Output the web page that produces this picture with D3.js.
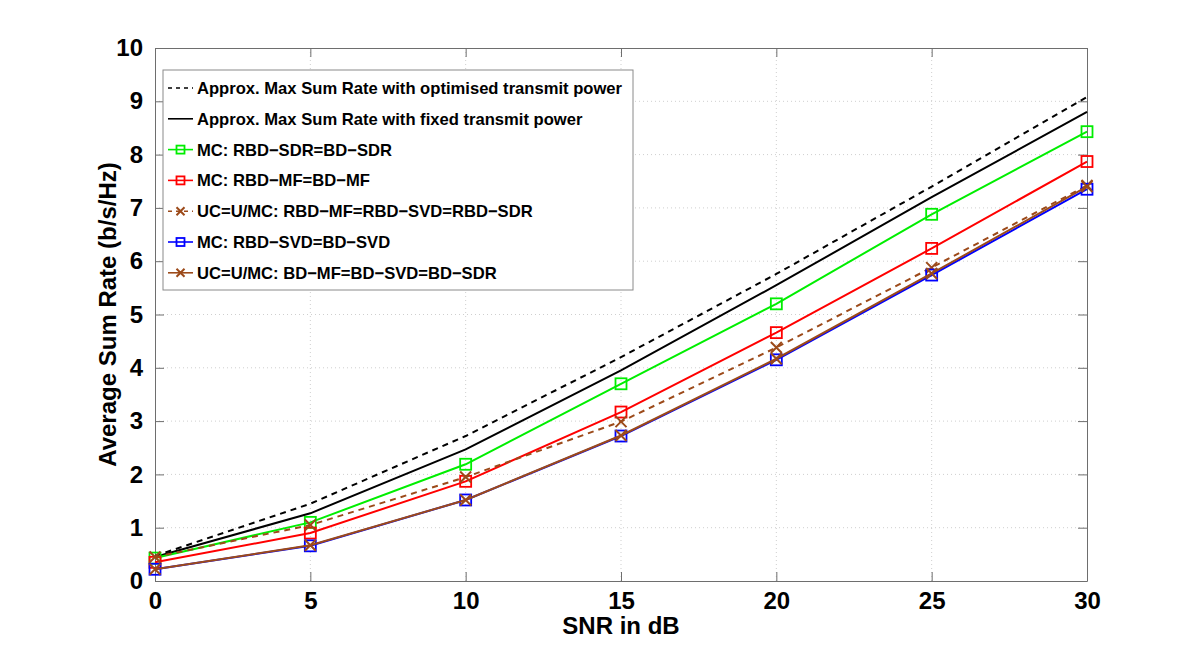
<!DOCTYPE html>
<html>
<head>
<meta charset="utf-8">
<script src="https://cdn.jsdelivr.net/npm/d3@7"></script>
<style>
    body { margin: 0; background: #fff; }
    svg { font-family: "Liberation Sans", Arial, sans-serif; font-weight: bold; }
    .grid line { stroke: #cfcfcf; stroke-dasharray: 1,3; }
    .axis path, .axis line { stroke: #6e6e6e; }
</style>
</head>
<body>
<svg id="chart"></svg>
<script>
// SNR values (dB)
const snr = [0, 5, 10, 15, 20, 25, 30];

// average sum rate for each curve (b/s/Hz)
const maxOptPower   = [0.47, 1.45, 2.72, 4.20, 5.76, 7.40, 9.08];
const maxFixedPower = [0.45, 1.27, 2.47, 3.95, 5.55, 7.20, 8.80];
const mcSdr         = [0.43, 1.10, 2.19, 3.70, 5.20, 6.88, 8.43];
const mcMf          = [0.35, 0.90, 1.87, 3.17, 4.66, 6.24, 7.87];
const ucRbd         = [0.45, 1.05, 1.95, 2.99, 4.38, 5.88, 7.42];
const mcSvd         = [0.22, 0.66, 1.52, 2.72, 4.15, 5.74, 7.35];
const ucBd          = [0.22, 0.67, 1.52, 2.73, 4.17, 5.77, 7.40];

const xTicks = [0, 5, 10, 15, 20, 25, 30];
const yTicks = [0, 1, 2, 3, 4, 5, 6, 7, 8, 9, 10];

const series = [
    { name: 'Approx. Max Sum Rate with optimised transmit power', values: maxOptPower, color: '#000000', dash: '6,5', marker: null },
    { name: 'Approx. Max Sum Rate with fixed transmit power', values: maxFixedPower, color: '#000000', dash: null, marker: null },
    { name: 'MC: RBD\u2212SDR=BD\u2212SDR', values: mcSdr, color: '#00ee00', dash: null, marker: 'square' },
    { name: 'MC: RBD\u2212MF=BD\u2212MF', values: mcMf, color: '#ff0000', dash: null, marker: 'square' },
    { name: 'UC=U/MC: RBD\u2212MF=RBD\u2212SVD=RBD\u2212SDR', values: ucRbd, color: '#9c4a1a', dash: '6,5', marker: 'x' },
    { name: 'MC: RBD\u2212SVD=BD\u2212SVD', values: mcSvd, color: '#0000ff', dash: null, marker: 'square' },
    { name: 'UC=U/MC: BD\u2212MF=BD\u2212SVD=BD\u2212SDR', values: ucBd, color: '#9c4a1a', dash: null, marker: 'x' }
];

const config = {
    width: 1200,
    height: 654,
    margin: { top: 48, right: 113, bottom: 73, left: 155 }
};

const svg = d3.select('#chart')
    .attr('width', config.width)
    .attr('height', config.height);

const innerW = config.width - config.margin.left - config.margin.right;
const innerH = config.height - config.margin.top - config.margin.bottom;

const xScale = d3.scaleLinear().domain([0, 30]).range([0, innerW]);
const yScale = d3.scaleLinear().domain([0, 10]).range([innerH, 0]);

const chart = svg.append('g')
    .attr('transform', `translate(${config.margin.left},${config.margin.top})`);

// grid
chart.append('g')
    .attr('class', 'grid')
    .selectAll('line.gx')
    .data(xTicks.slice(1, -1))
    .join('line')
    .attr('x1', d => xScale(d)).attr('x2', d => xScale(d))
    .attr('y1', 0).attr('y2', innerH);

chart.select('.grid')
    .selectAll('line.gy')
    .data(yTicks.slice(1, -1))
    .join('line')
    .attr('class', 'gy')
    .attr('x1', 0).attr('x2', innerW)
    .attr('y1', d => yScale(d)).attr('y2', d => yScale(d));

// axes, ticks point inward like matlab
const tickLen = 9;
const xAxis = d3.axisBottom(xScale).tickValues(xTicks).tickSize(-tickLen).tickPadding(14).tickSizeOuter(0);
const yAxis = d3.axisLeft(yScale).tickValues(yTicks).tickSize(-tickLen).tickPadding(12).tickSizeOuter(0);

const xAxisG = chart.append('g')
    .attr('class', 'axis x-axis')
    .attr('transform', `translate(0,${innerH})`)
    .call(xAxis);

const yAxisG = chart.append('g')
    .attr('class', 'axis y-axis')
    .call(yAxis);

chart.append('g')
    .attr('class', 'axis')
    .call(d3.axisTop(xScale).tickValues(xTicks).tickSize(-tickLen).tickFormat('').tickSizeOuter(0));

chart.append('g')
    .attr('class', 'axis')
    .attr('transform', `translate(${innerW},0)`)
    .call(d3.axisRight(yScale).tickValues(yTicks).tickSize(-tickLen).tickFormat('').tickSizeOuter(0));

chart.selectAll('.axis text')
    .style('font-size', '24px')
    .style('font-weight', 'bold')
    .style('font-family', '"Liberation Sans", Arial, sans-serif')
    .attr('fill', '#000');

chart.selectAll('.x-axis .tick text').attr('dy', '0.6em');

// lines
const line = d3.line()
    .x((d, i) => xScale(snr[i]))
    .y(d => yScale(d));

const drawMarker = (g, type, color, size) => {
    if (type === 'square') {
        g.append('rect')
            .attr('x', -size / 2).attr('y', -size / 2)
            .attr('width', size).attr('height', size)
            .attr('fill', 'none')
            .attr('stroke', color)
            .attr('stroke-width', 1.8);
    } else if (type === 'x') {
        const s = size / 2;
        g.append('path')
            .attr('d', `M${-s},${-s}L${s},${s}M${-s},${s}L${s},${-s}`)
            .attr('stroke', color)
            .attr('stroke-width', 2);
    }
};

series.forEach(s => {
    chart.append('path')
        .datum(s.values)
        .attr('d', line)
        .attr('fill', 'none')
        .attr('stroke', s.color)
        .attr('stroke-width', 2)
        .attr('stroke-dasharray', s.dash);

    if (s.marker) {
        s.values.forEach((v, i) => {
            const g = chart.append('g')
                .attr('transform', `translate(${xScale(snr[i])},${yScale(v)})`);
            drawMarker(g, s.marker, s.color, 11);
        });
    }
});

// axis labels
svg.append('text')
    .attr('x', config.margin.left + innerW / 2)
    .attr('y', 634)
    .attr('text-anchor', 'middle')
    .style('font-size', '24px')
    .text('SNR in dB');

svg.append('text')
    .attr('transform', `translate(116,${config.margin.top + innerH / 2}) rotate(-90)`)
    .attr('text-anchor', 'middle')
    .style('font-size', '24px')
    .text('Average Sum Rate (b/s/Hz)');

// legend
const legend = svg.append('g')
    .attr('transform', 'translate(163,70)');

legend.append('rect')
    .attr('width', 470)
    .attr('height', 220)
    .attr('fill', '#fff')
    .attr('stroke', '#8a8a8a')
    .attr('stroke-width', 1);

series.forEach((s, i) => {
    const row = legend.append('g')
        .attr('transform', `translate(0,${18 + i * 30.8})`);

    row.append('line')
        .attr('x1', 5).attr('x2', 30)
        .attr('y1', 0).attr('y2', 0)
        .attr('stroke', s.color)
        .attr('stroke-width', 1.6)
        .attr('stroke-dasharray', s.dash ? '4,4' : null);

    if (s.marker) {
        const g = row.append('g').attr('transform', 'translate(17.5,0)');
        drawMarker(g, s.marker, s.color, 8);
    }

    row.append('text')
        .attr('x', 34)
        .attr('y', 0)
        .attr('dy', '0.36em')
        .style('font-size', '16.6px')
        .text(s.name);
});
</script>
</body>
</html>
